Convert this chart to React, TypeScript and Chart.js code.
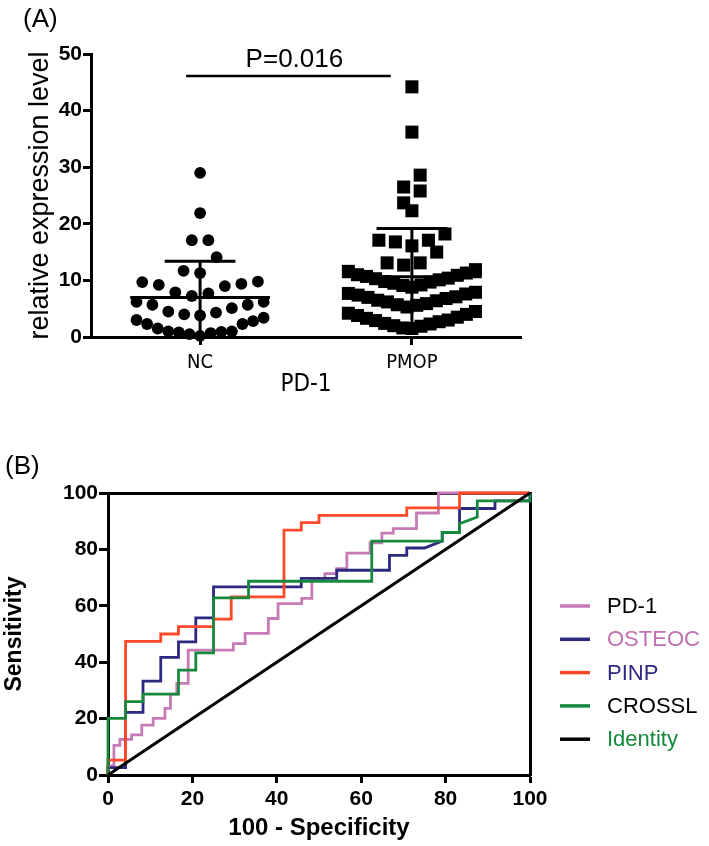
import React, { useEffect, useRef } from 'react';
import { Chart, registerables } from 'chart.js';

Chart.register(...registerables);

const FONT = "'Liberation Sans', Arial, Helvetica, sans-serif";
const NARROW = "'Liberation Sans Narrow', 'DejaVu Sans Condensed', 'Liberation Sans', Arial, sans-serif";

// ---------- Panel A data ----------
const GROUPS = ['NC', 'PMOP'];
const NC_VALUES = [
  29.0, 21.9, 17.1, 17.1, 14.1, 11.7, 11.3,
  9.8, 9.7, 9.4, 9.2, 9.0, 7.9, 7.7, 7.25,
  6.2, 6.2, 5.7, 5.7, 5.1, 4.5, 4.3, 4.0, 3.8,
  3.4, 3.0, 2.8, 2.3, 2.3, 1.5, 1.0, 1.0, 0.9, 0.8, 0.7, 0.5, 0.2,
];
const PMOP_VALUES = [
  44.2, 36.2, 28.6, 26.5, 25.8, 23.7, 22.3,
  18.2, 17.1, 17.1, 16.8, 16.1, 15.0, 13.1, 13.1, 12.7,
  11.9, 11.6, 11.3, 11.0, 10.9, 10.7, 10.4, 10.3, 10.1, 9.8, 9.7, 9.5, 9.2, 9.1, 8.8,
  7.9, 7.7, 7.6, 7.4, 7.1, 7.0, 6.8, 6.5, 6.4, 6.2, 5.9, 5.7, 5.6, 5.3,
  4.5, 4.2, 4.0, 3.8, 3.5, 3.3, 3.0, 2.9, 2.7, 2.4, 2.3, 2.0, 1.9, 1.6, 1.5,
];
const Y_A_MIN = 0;
const Y_A_MAX = 50;
const Y_A_STEP = 10;
const P_LABEL = 'P=0.016';
const P_BRACKET_FROM = -0.066;
const P_BRACKET_TO = 0.9;
const P_BRACKET_Y = 46.1;

// ---------- Panel B data (ROC: [100 - specificity, sensitivity]) ----------
const ROC_LABELS = ['PD-1', 'OSTEOC', 'PINP', 'CROSSL', 'Identity'];
const PD1_ROC: [number, number][] = [
  [0, 0], [0, 3.2], [1.4, 3.2], [1.4, 10.5], [2.8, 10.5], [2.8, 12.6], [5.6, 12.6], [5.6, 14.2],
  [8.0, 14.2], [8.0, 17.7], [10.7, 17.7], [10.7, 20.1], [13.5, 20.1], [13.5, 23.6], [14.8, 23.6],
  [14.8, 28.7], [16.3, 28.7], [16.3, 32.5], [19.0, 32.5], [19.0, 44.3], [29.7, 44.3], [29.7, 46.6],
  [32.5, 46.6], [32.5, 50.2], [38.0, 50.2], [38.0, 55.5], [40.3, 55.5], [40.3, 60.8], [45.9, 60.8],
  [45.9, 62.6], [48.3, 62.6], [48.3, 69.7], [51.4, 69.7], [51.4, 71.4], [54.2, 71.4], [54.2, 73.2],
  [56.6, 73.2], [56.6, 78.7], [62.1, 78.7], [62.1, 82.3], [64.9, 82.3], [64.9, 85.8], [67.6, 85.8],
  [67.6, 87.4], [73.1, 87.4], [73.1, 92.9], [78.3, 92.9], [78.3, 100], [100, 100],
];
const OSTEOC_ROC: [number, number][] = [
  [0, 0], [0, 2.6], [4.17, 2.6], [4.17, 22.2], [8.3, 22.2], [8.3, 33.3], [12.5, 33.3], [12.5, 41.7],
  [16.7, 41.7], [16.7, 47.2], [20.8, 47.2], [20.8, 55.7], [25, 55.7], [25, 66.7], [45.8, 66.7],
  [45.8, 69.7], [54.2, 69.7], [54.2, 72.6], [66.7, 72.6], [66.7, 77.9], [70.8, 77.9], [70.8, 80.5],
  [75, 80.5], [79.2, 83.0], [79.2, 86.0], [83.3, 86.0], [83.3, 94.5], [91.7, 94.5], [91.7, 97.2],
  [100, 97.2], [100, 100],
];
const PINP_ROC: [number, number][] = [
  [0, 0], [0, 5.3], [4.17, 5.3], [4.17, 47.4], [12.5, 47.4], [12.5, 50], [16.7, 50], [16.7, 52.6],
  [25, 52.6], [25, 55.3], [29.2, 55.3], [29.2, 63.2], [41.7, 63.2], [41.7, 86.8], [45.8, 86.8],
  [45.8, 89.5], [50, 89.5], [50, 92.1], [70.8, 92.1], [70.8, 94.7], [83.3, 94.7], [83.3, 100], [100, 100],
];
const CROSSL_ROC: [number, number][] = [
  [0, 0], [0, 20.1], [4.17, 20.1], [4.17, 26.0], [8.3, 26.0], [8.3, 28.7], [16.7, 28.7], [16.7, 37.2],
  [20.8, 37.2], [20.8, 43.3], [25, 43.3], [25, 62.8], [33.3, 62.8], [33.3, 68.7], [62.5, 68.7],
  [62.5, 82.9], [79.2, 82.9], [79.2, 86.0], [83.3, 86.0], [83.3, 89.1], [87.5, 91.5], [87.5, 97.2],
  [100, 97.2], [100, 100],
];
const IDENTITY_ROC: [number, number][] = [[0, 0], [100, 100]];
const ROC_SERIES = [PD1_ROC, OSTEOC_ROC, PINP_ROC, CROSSL_ROC, IDENTITY_ROC];
const ROC_COLORS = ['#c67bb7', '#2d2880', '#ff4a2a', '#17893d', '#000000'];
const LEGEND_TEXT_COLORS = ['#000000', '#c070b0', '#2d2880', '#000000', '#17893d'];
const ROC_MIN = 0;
const ROC_MAX = 100;
const ROC_STEP = 20;

// ---------- helpers ----------
const mean = (a: number[]) => a.reduce((s, v) => s + v, 0) / a.length;
const sd = (a: number[]) => {
  const m = mean(a);
  return Math.sqrt(a.reduce((s, v) => s + (v - m) ** 2, 0) / (a.length - 1));
};

function swarmPoints(values: number[], center: number) {
  const BIN = 3.5;
  const STEP = 0.078;
  const HALF = 0.3;
  const min = Math.min(...values);
  const bins = new Map<number, number[]>();
  for (const v of values) {
    const k = Math.floor((v - min) / BIN + 1e-9);
    if (!bins.has(k)) bins.set(k, []);
    bins.get(k)!.push(v);
  }
  const pts: { x: number; y: number }[] = [];
  bins.forEach((list) => {
    list.sort((p, q) => p - q);
    const n = list.length;
    const st = n > 1 ? Math.min(STEP, (2 * HALF) / (n - 1)) : 0;
    list.forEach((v, i) => {
      let slot: number;
      if (n % 2 === 1) slot = i === 0 ? 0 : (i % 2 === 1 ? -1 : 1) * Math.ceil(i / 2);
      else slot = (i % 2 === 0 ? -1 : 1) * (Math.floor(i / 2) + 0.5);
      pts.push({ x: center + slot * st, y: v });
    });
  });
  return pts;
}

const lineDs = (data: { x: number; y: number }[], width = 3) => ({
  type: 'scatter' as const,
  data,
  showLine: true,
  borderColor: '#000',
  borderWidth: width,
  pointRadius: 0,
  clip: false as const,
  order: 0,
});

const axisGrid = (len: number) => ({
  display: true,
  drawOnChartArea: false,
  drawTicks: true,
  tickLength: len,
  tickWidth: 3,
  tickColor: '#000',
  color: '#000',
});
const axisBorder = { display: true, width: 3, color: '#000' };

const pLabelPlugin = {
  id: 'pLabel',
  afterDatasetsDraw(chart: any) {
    const { ctx, scales } = chart;
    const x = scales.x.getPixelForValue((P_BRACKET_FROM + P_BRACKET_TO) / 2);
    const y = scales.y.getPixelForValue(P_BRACKET_Y);
    ctx.save();
    ctx.font = `26px ${FONT}`;
    ctx.fillStyle = '#000';
    ctx.textAlign = 'center';
    ctx.textBaseline = 'alphabetic';
    ctx.fillText(P_LABEL, x + 6, y - 9);
    ctx.restore();
  },
};

const rocLegendPlugin = {
  id: 'rocLegend',
  afterDraw(chart: any) {
    const { ctx, chartArea } = chart;
    ctx.save();
    ctx.font = `22px ${FONT}`;
    ctx.textBaseline = 'middle';
    ctx.textAlign = 'left';
    ROC_LABELS.forEach((label, i) => {
      const y = chartArea.top + 113 + i * 33.3;
      ctx.strokeStyle = ROC_COLORS[i];
      ctx.lineWidth = 3.5;
      ctx.beginPath();
      ctx.moveTo(chartArea.right + 30, y);
      ctx.lineTo(chartArea.right + 60, y);
      ctx.stroke();
      ctx.fillStyle = LEGEND_TEXT_COLORS[i];
      ctx.fillText(label, chartArea.right + 77, y + 1);
    });
    ctx.restore();
  },
};

function configA(): any {
  const groups = [NC_VALUES, PMOP_VALUES];
  const datasets: any[] = [];
  groups.forEach((vals, i) => {
    const m = mean(vals);
    const s = sd(vals);
    datasets.push(lineDs([{ x: i - 0.33, y: m }, { x: i + 0.33, y: m }]));
    datasets.push(lineDs([{ x: i, y: m - s }, { x: i, y: m + s }]));
    datasets.push(lineDs([{ x: i - 0.167, y: m + s }, { x: i + 0.167, y: m + s }]));
  });
  datasets.push(lineDs([{ x: P_BRACKET_FROM, y: P_BRACKET_Y }, { x: P_BRACKET_TO, y: P_BRACKET_Y }], 2.5));
  datasets.push({
    type: 'scatter',
    label: GROUPS[0],
    data: swarmPoints(NC_VALUES, 0),
    pointStyle: 'circle',
    pointRadius: 5.9,
    pointBorderWidth: 0,
    backgroundColor: '#000',
    borderColor: '#000',
    clip: false,
    order: 1,
  });
  datasets.push({
    type: 'scatter',
    label: GROUPS[1],
    data: swarmPoints(PMOP_VALUES, 1),
    pointStyle: 'rect',
    pointRadius: 9.2,
    pointBorderWidth: 0,
    backgroundColor: '#000',
    borderColor: '#000',
    clip: false,
    order: 1,
  });
  return {
    type: 'scatter',
    data: { datasets },
    plugins: [pLabelPlugin],
    options: {
      responsive: false,
      animation: false,
      devicePixelRatio: 1,
      layout: { padding: { left: 0, right: 188, top: 54, bottom: 21 } },
      plugins: { legend: { display: false }, tooltip: { enabled: false } },
      scales: {
        x: {
          type: 'linear',
          min: -0.515,
          max: 1.515,
          afterBuildTicks: (s: any) => {
            s.ticks = GROUPS.map((_, i) => ({ value: i }));
          },
          afterFit: (s: any) => {
            s.height = 62;
          },
          ticks: {
            callback: (v: any) => GROUPS[v as number] ?? '',
            font: { family: NARROW, size: 20 },
            color: '#000',
            padding: 6,
            autoSkip: false,
            maxRotation: 0,
          },
          grid: axisGrid(8),
          border: axisBorder,
          title: {
            display: true,
            text: 'PD-1',
            font: { family: NARROW, size: 24 },
            color: '#000',
            padding: { top: 0, bottom: 0 },
          },
        },
        y: {
          type: 'linear',
          min: Y_A_MIN,
          max: Y_A_MAX,
          afterFit: (s: any) => {
            s.width = 91;
          },
          ticks: { stepSize: Y_A_STEP, font: { size: 21, weight: 'bold' }, color: '#000', padding: 1 },
          grid: axisGrid(8),
          border: axisBorder,
          title: {
            display: true,
            text: 'relative expression level',
            font: { size: 27 },
            color: '#000',
            padding: { top: 24, bottom: 0 },
          },
        },
      },
    },
  };
}

function configB(): any {
  const datasets: any[] = ROC_SERIES.map((pairs, i) => ({
    type: 'scatter',
    label: ROC_LABELS[i],
    data: pairs.map(([x, y]) => ({ x, y })),
    showLine: true,
    borderColor: ROC_COLORS[i],
    backgroundColor: ROC_COLORS[i],
    borderWidth: i === 4 ? 3 : 2.8,
    pointRadius: 0,
    clip: false,
    order: i === 4 ? 0 : 5 - i,
  }));
  return {
    type: 'scatter',
    data: { datasets },
    plugins: [rocLegendPlugin],
    options: {
      responsive: false,
      animation: false,
      devicePixelRatio: 1,
      layout: { padding: { left: 0, right: 179, top: 73, bottom: 1 } },
      plugins: { legend: { display: false }, tooltip: { enabled: false } },
      scales: {
        x: {
          type: 'linear',
          position: 'bottom',
          min: ROC_MIN,
          max: ROC_MAX,
          afterFit: (s: any) => {
            s.height = 70;
          },
          ticks: { stepSize: ROC_STEP, font: { size: 21, weight: 'bold' }, color: '#000', padding: 4, maxRotation: 0 },
          grid: axisGrid(8),
          border: axisBorder,
          title: {
            display: true,
            text: '100 - Specificity',
            font: { size: 24, weight: 'bold' },
            color: '#000',
            padding: { top: 0, bottom: 2.6 },
          },
        },
        y: {
          type: 'linear',
          position: 'left',
          min: ROC_MIN,
          max: ROC_MAX,
          afterFit: (s: any) => {
            s.width = 108;
          },
          ticks: { stepSize: ROC_STEP, font: { size: 21, weight: 'bold' }, color: '#000', padding: 1 },
          grid: axisGrid(9),
          border: axisBorder,
          title: {
            display: true,
            text: 'Sensitivity',
            font: { size: 23, weight: 'bold' },
            color: '#000',
            padding: { top: 1, bottom: 0 },
          },
        },
        x2: {
          type: 'linear',
          axis: 'x',
          position: 'top',
          min: ROC_MIN,
          max: ROC_MAX,
          afterFit: (s: any) => {
            s.height = 0;
          },
          ticks: { display: false },
          grid: { display: false, drawTicks: false },
          border: axisBorder,
        },
        y2: {
          type: 'linear',
          axis: 'y',
          position: 'right',
          min: ROC_MIN,
          max: ROC_MAX,
          afterFit: (s: any) => {
            s.width = 0;
          },
          ticks: { display: false },
          grid: { display: false, drawTicks: false },
          border: axisBorder,
        },
      },
    },
  };
}

Chart.defaults.font.family = FONT;
Chart.defaults.color = '#000';

export default function App() {
  const refA = useRef<HTMLCanvasElement>(null);
  const refB = useRef<HTMLCanvasElement>(null);
  useEffect(() => {
    const a = new Chart(refA.current!, configA());
    const b = new Chart(refB.current!, configB());
    return () => {
      a.destroy();
      b.destroy();
    };
  }, []);
  return (
    <div
      style={{
        position: 'absolute',
        left: 0,
        top: 0,
        width: 709,
        height: 846,
        background: '#fff',
        fontFamily: FONT,
        color: '#000',
      }}
    >
      <canvas
        ref={refA}
        width={709}
        height={420}
        style={{ position: 'absolute', left: 0, top: 0, width: 709, height: 420 }}
      />
      <canvas
        ref={refB}
        width={709}
        height={426}
        style={{ position: 'absolute', left: 0, top: 420, width: 709, height: 426 }}
      />
      <div style={{ position: 'absolute', left: 23, top: 5, fontSize: 26, lineHeight: 1 }}>(A)</div>
      <div style={{ position: 'absolute', left: 5, top: 452, fontSize: 26, lineHeight: 1 }}>(B)</div>
    </div>
  );
}
